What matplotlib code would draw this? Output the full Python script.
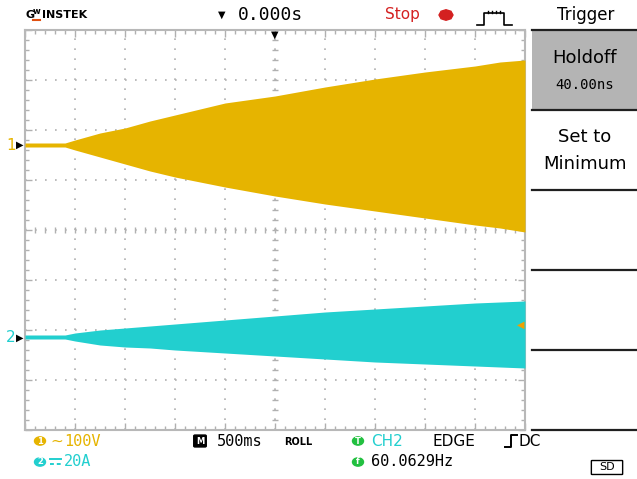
import numpy as np
import matplotlib.pyplot as plt
from matplotlib.patches import Rectangle, RegularPolygon, Circle, FancyBboxPatch
from matplotlib.lines import Line2D

W, H = 637, 479

# time (s), 500 ms/div, trigger at the centre
t = [-2.5, -2.1, -2.0, -1.75, -1.5, -1.25, -1.0, -0.5, 0.0, 0.5, 1.0, 1.5, 2.0, 2.25, 2.5]
# CH1 envelope (V), 100 V/div
ch1_hi = [4, 4, 10, 24, 34, 48, 60, 84, 98, 116, 132, 146, 158, 166, 170]
ch1_lo = [-4, -4, -10, -24, -38, -52, -64, -84, -102, -118, -132, -146, -160, -166, -174]
# CH2 envelope (A), 20 A/div
ch2_hi = [0.8, 0.8, 1.6, 2.8, 3.6, 4.4, 5.2, 6.8, 8.4, 10, 11.2, 12.4, 13.6, 14, 14.4]
ch2_lo = [-0.8, -0.8, -1.6, -3.2, -4, -4.4, -5.2, -6.4, -7.6, -8.8, -10, -10.8, -11.6, -12, -12.4]

ch1_scale, ch1_pos = 100.0, 1.7
ch2_scale, ch2_pos = 20.0, -2.14

YEL = '#e6b400'
CYA = '#22cfcf'
GRID = '#b0b0b0'


def fx(x):
    return x / W


def fy(y):
    return 1 - y / H


fig = plt.figure(figsize=(W / 100, H / 100), dpi=100)

ax = fig.add_axes([fx(25), fy(430), 500 / W, 400 / H])
ax.set_xlim(-2.5, 2.5)
ax.set_ylim(-4, 4)

# waveforms
ax.fill_between(t, ch1_pos + np.array(ch1_lo) / ch1_scale,
                ch1_pos + np.array(ch1_hi) / ch1_scale, color=YEL, lw=0, zorder=3)
ax.fill_between(t, ch2_pos + np.array(ch2_lo) / ch2_scale,
                ch2_pos + np.array(ch2_hi) / ch2_scale, color=CYA, lw=0, zorder=3)

# dotted graticule
ax.set_xticks(np.arange(-2.5, 2.51, 0.5))
ax.set_yticks(np.arange(-4, 4.01, 1))
ax.set_xticks(np.arange(-2.5, 2.51, 0.1), minor=True)
ax.set_yticks(np.arange(-4, 4.01, 0.2), minor=True)
ax.grid(True, which='major', color=GRID, lw=1.2, ls=(0, (1, 5)))
ax.tick_params(which='both', direction='in', top=True, right=True,
               labelbottom=False, labelleft=False, color=GRID, width=1)
ax.tick_params(which='major', length=5)
ax.tick_params(which='minor', length=3)
for s in ax.spines.values():
    s.set_color('#b8b8b8')
    s.set_linewidth(1.5)

# centre cross marks
cy = np.arange(-4, 4.01, 0.2)
cx = np.arange(-2.5, 2.51, 0.1)
ax.plot(np.zeros_like(cy), cy, ls='none', marker='_', ms=5, mew=1.0, color=GRID, zorder=2)
ax.plot(cx, np.zeros_like(cx), ls='none', marker='|', ms=5, mew=1.0, color=GRID, zorder=2)

# header
fig.text(fx(25), fy(15), 'G', fontsize=8, fontweight='bold', va='center', ha='left')
fig.text(fx(33), fy(12), 'w', fontsize=6, fontweight='bold', va='center', ha='left')
fig.add_artist(Line2D([fx(33), fx(40)], [fy(20), fy(20)], color='#e05010', lw=1.5))
fig.text(fx(42), fy(15), 'INSTEK', fontsize=8, fontweight='bold', va='center', ha='left')
fig.text(fx(222), fy(15), '▼', fontsize=7, va='center', ha='center')
fig.text(fx(238), fy(15), '0.000s', fontsize=13, family='DejaVu Sans Mono', va='center', ha='left')
fig.text(fx(385), fy(15), 'Stop', fontsize=11, color='#d42020', va='center', ha='left')
fig.add_artist(RegularPolygon((fx(446), fy(15)), 8, radius=7 / W, color='#d42020',
                              transform=fig.transFigure))
fig.add_artist(Line2D([fx(477), fx(484), fx(484), fx(504), fx(504), fx(512)],
                      [fy(25), fy(25), fy(13), fy(13), fy(25), fy(25)], color='k', lw=1.2))
for xx in [488, 492, 496, 500]:
    fig.add_artist(Line2D([fx(xx), fx(xx)], [fy(13), fy(11)], color='k', lw=1))
fig.text(fx(586), fy(15), 'Trigger', fontsize=12, va='center', ha='center')

# softkey menu
fig.add_artist(Rectangle((fx(532), fy(110)), 105 / W, 80 / H, facecolor='#b4b4b4',
                         edgecolor='none', transform=fig.transFigure))
for yy in [30, 110, 190, 270, 350, 430]:
    fig.add_artist(Line2D([fx(532), fx(637)], [fy(yy), fy(yy)], color='#202020', lw=1.6))
fig.text(fx(585), fy(58), 'Holdoff', fontsize=13, va='center', ha='center')
fig.text(fx(585), fy(85), '40.00ns', fontsize=10, family='DejaVu Sans Mono', va='center', ha='center')
fig.text(fx(585), fy(137), 'Set to', fontsize=13, va='center', ha='center')
fig.text(fx(585), fy(164), 'Minimum', fontsize=13, va='center', ha='center')

# channel markers
fig.text(fx(11), fy(145), '1', fontsize=11, color=YEL, va='center', ha='center')
fig.text(fx(20), fy(145), '▶', fontsize=7, color='k', va='center', ha='center')
fig.text(fx(11), fy(338), '2', fontsize=11, color=CYA, va='center', ha='center')
fig.text(fx(20), fy(338), '▶', fontsize=7, color='k', va='center', ha='center')
fig.text(fx(275), fy(35), '▼', fontsize=7, color='k', va='center', ha='center')
fig.text(fx(521), fy(325), '◀', fontsize=7, color='#f0a000', va='center', ha='center')


# footer
def badge(x, y, s, fc, round_=True):
    if round_:
        fig.add_artist(Circle((fx(x), fy(y)), 5.5 / W, color=fc, transform=fig.transFigure))
    else:
        fig.add_artist(FancyBboxPatch((fx(x - 5), fy(y + 5)), 10 / W, 10 / H,
                                      boxstyle='round,pad=0.002', color=fc,
                                      transform=fig.transFigure))
    fig.text(fx(x), fy(y), s, fontsize=6, fontweight='bold', color='white',
             va='center', ha='center')


badge(40, 441, '1', YEL)
fig.text(fx(50), fy(441), '∼', fontsize=11, color=YEL, va='center', ha='left')
fig.text(fx(64), fy(441), '100V', fontsize=11, family='DejaVu Sans Mono', color=YEL, va='center', ha='left')
badge(40, 462, '2', CYA)
# DC symbol (solid line over dashed line)
fig.add_artist(Line2D([fx(50), fx(61)], [fy(459), fy(459)], color=CYA, lw=1.4))
fig.add_artist(Line2D([fx(50), fx(61)], [fy(464), fy(464)], color=CYA, lw=1.4, ls=(0, (2, 1.5))))
fig.text(fx(64), fy(462), '20A', fontsize=11, family='DejaVu Sans Mono', color=CYA, va='center', ha='left')
badge(200, 441, 'M', 'k', round_=False)
fig.text(fx(217), fy(441), '500ms', fontsize=11, family='DejaVu Sans Mono', va='center', ha='left')
fig.text(fx(284), fy(442), 'ROLL', fontsize=7, fontweight='bold', va='center', ha='left')
badge(358, 441, 'T', '#22c040')
fig.text(fx(371), fy(441), 'CH2', fontsize=11, color=CYA, va='center', ha='left')
fig.text(fx(432), fy(441), 'EDGE', fontsize=11, va='center', ha='left')
fig.add_artist(Line2D([fx(505), fx(511), fx(511), fx(517)],
                      [fy(447), fy(447), fy(435), fy(435)], color='k', lw=1.4))
fig.text(fx(518), fy(441), 'DC', fontsize=11, va='center', ha='left')
badge(358, 462, 'f', '#22c040')
fig.text(fx(371), fy(462), '60.0629Hz', fontsize=11, family='DejaVu Sans Mono', va='center', ha='left')
fig.add_artist(FancyBboxPatch((fx(592), fy(474)), 30 / W, 13 / H, boxstyle='round,pad=0.001',
                              facecolor='none', edgecolor='k', lw=1, transform=fig.transFigure))
fig.text(fx(607), fy(467), 'SD', fontsize=8, va='center', ha='center')

fig.savefig('out.png', dpi=100, facecolor='white')
